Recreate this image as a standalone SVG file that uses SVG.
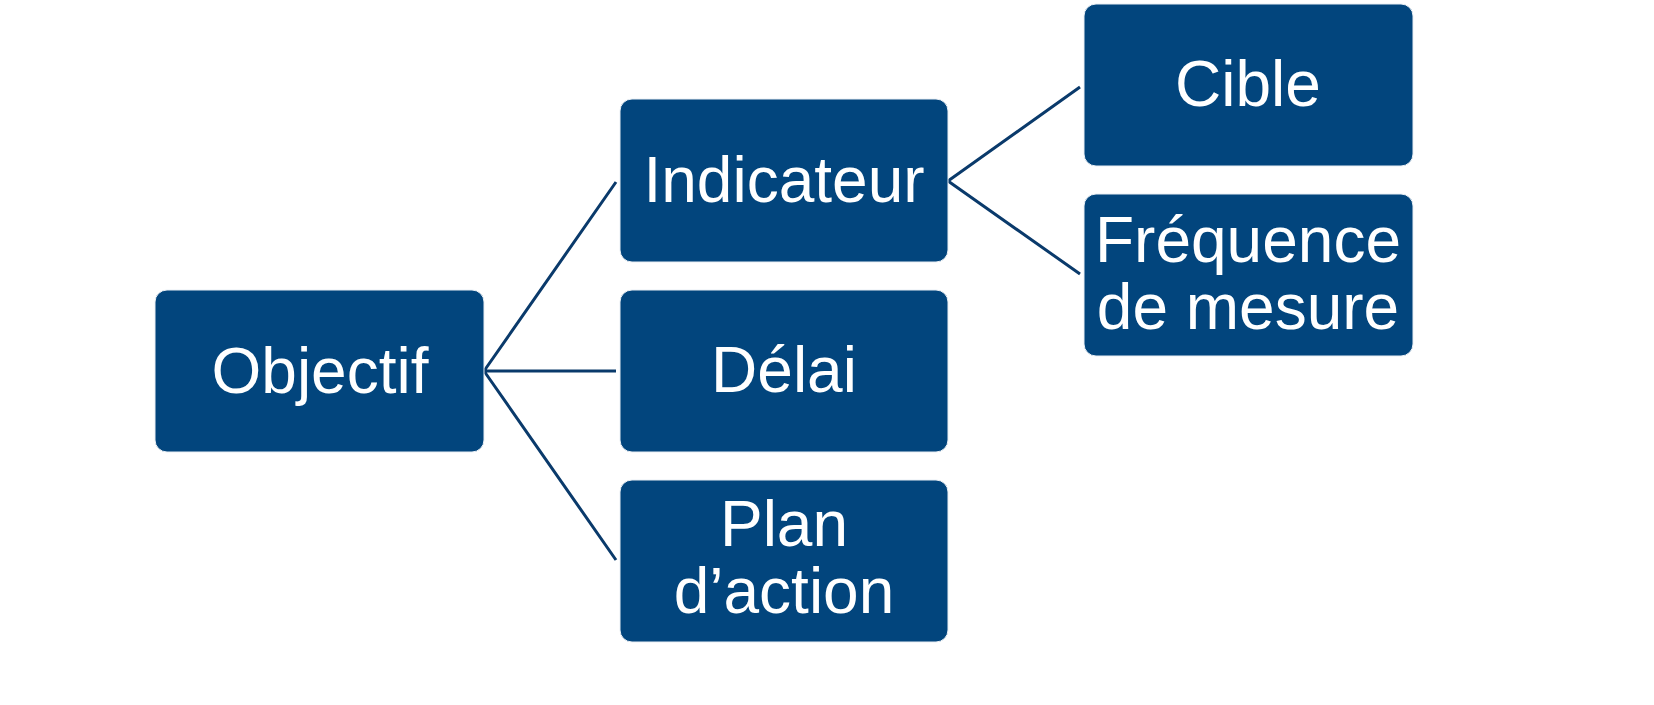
<svg xmlns="http://www.w3.org/2000/svg" width="1654" height="705" viewBox="0 0 1654 705">
<style>
.b{fill:#02457d;stroke:#e8eef4;stroke-width:1}
.t{fill:#fff;font-family:"Liberation Sans",Arial,sans-serif;font-size:64px;text-anchor:middle}
.c{stroke:#0a3a6b;stroke-width:3;fill:none}
</style>
<rect width="1654" height="705" fill="#fff"/>
<g id="connectors">
<path class="c" d="M484,371 L616,182 M484,371 L616,371 M484,371 L616,560 M948,181 L1080,87 M948,181 L1080,274"/>
</g>
<g id="objectif"><rect class="b" x="155" y="290" width="329" height="162" rx="12"/><text class="t" x="320" y="393">Objectif</text></g>
<g id="indicateur"><rect class="b" x="620" y="99" width="328" height="163" rx="12"/><text class="t" x="784" y="202">Indicateur</text></g>
<g id="delai"><rect class="b" x="620" y="290" width="328" height="162" rx="12"/><text class="t" x="784" y="392">Délai</text></g>
<g id="plan"><rect class="b" x="620" y="480" width="328" height="162" rx="12"/><text class="t" x="784" y="546">Plan</text><text class="t" x="784" y="613">d’action</text></g>
<g id="cible"><rect class="b" x="1084" y="4" width="329" height="162" rx="12"/><text class="t" x="1248" y="106">Cible</text></g>
<g id="frequence"><rect class="b" x="1084" y="194" width="329" height="162" rx="12"/><text class="t" x="1248" y="262">Fréquence</text><text class="t" x="1248" y="329">de mesure</text></g>
</svg>
